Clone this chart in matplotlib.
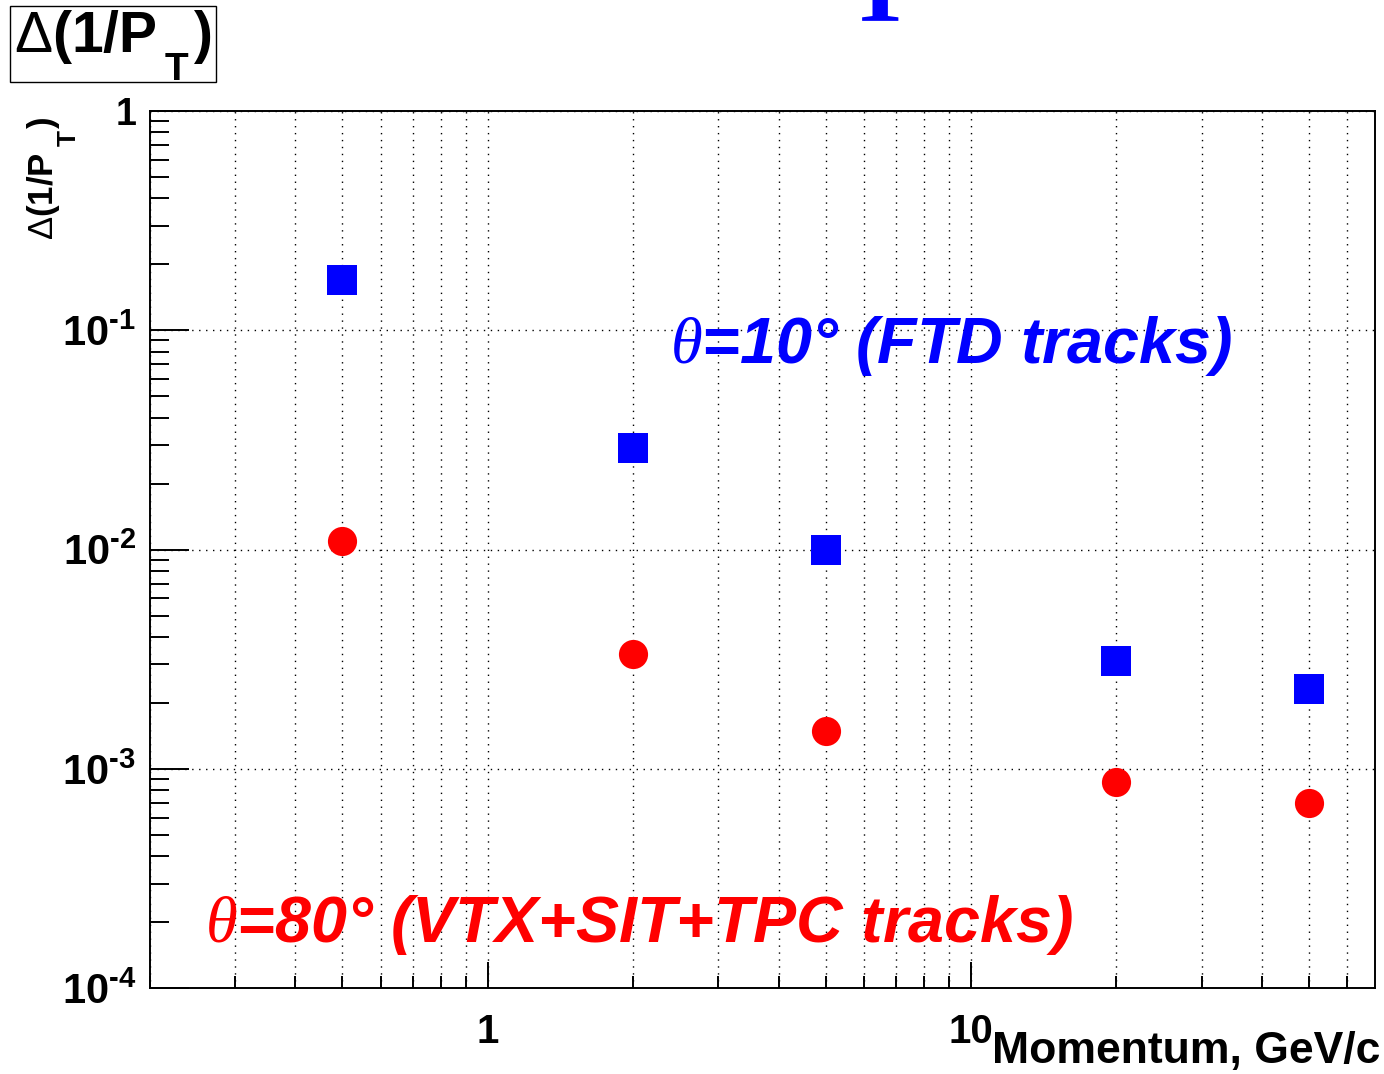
import numpy as np
import matplotlib
matplotlib.use("Agg")
import matplotlib.pyplot as plt
from matplotlib.ticker import LogLocator, NullFormatter, FixedLocator
from matplotlib.patches import Rectangle

plt.rcParams['font.family'] = ['Liberation Sans', 'DejaVu Sans']
plt.rcParams['mathtext.fontset'] = 'custom'
plt.rcParams['mathtext.rm'] = 'Liberation Sans'
plt.rcParams['mathtext.bf'] = 'Liberation Sans:bold'
plt.rcParams['mathtext.it'] = 'Liberation Serif:italic'

# momentum points, GeV/c
momentum = [0.5, 2, 5, 20, 50]
# delta(1/pT), theta = 10 deg (FTD tracks)
res_ftd = [0.170, 0.0292, 0.0100, 0.00311, 0.00231]
# delta(1/pT), theta = 80 deg (VTX+SIT+TPC tracks)
res_tpc = [0.0109, 0.00334, 0.00149, 0.00087, 0.000697]

ytick_vals = [1e-4, 1e-3, 1e-2, 1e-1, 1]
ytick_labels = [r'$\mathbf{10^{‐4}}$', r'$\mathbf{10^{‐3}}$', r'$\mathbf{10^{‐2}}$',
                r'$\mathbf{10^{‐1}}$', '1']
xtick_vals = [1, 10]
xtick_labels = ['1', '10']

W, H = 1384, 1074
fig = plt.figure(figsize=(W / 100, H / 100), dpi=100)
ax = fig.add_axes([0.1084, 0.0798, 0.885, 0.8168])

ax.plot(momentum, res_ftd, 's', color='#0000ff', markersize=21, markeredgewidth=0, zorder=5)
ax.plot(momentum, res_tpc, 'o', color='#ff0000', markersize=21, markeredgewidth=0, zorder=5)

ax.set_xscale('log')
ax.set_yscale('log')
ax.set_xlim(0.2, 68.5)
ax.set_ylim(1e-4, 1)

ax.xaxis.set_major_locator(FixedLocator(xtick_vals))
ax.set_xticklabels(xtick_labels)
ax.xaxis.set_minor_locator(LogLocator(base=10, subs=np.arange(2, 10), numticks=20))
ax.xaxis.set_minor_formatter(NullFormatter())
ax.yaxis.set_major_locator(FixedLocator(ytick_vals))
ax.set_yticklabels(ytick_labels)
ax.yaxis.set_minor_locator(LogLocator(base=10, subs=np.arange(2, 10), numticks=20))
ax.yaxis.set_minor_formatter(NullFormatter())

for s in ax.spines.values():
    s.set_linewidth(1.4)
ax.tick_params(axis='x', which='major', direction='in', length=19, width=1.4, pad=18,
               labelsize=29)
ax.tick_params(axis='x', which='minor', direction='in', length=9, width=1.4)
ax.tick_params(axis='y', which='major', direction='in', length=28, width=1.4, pad=10,
               labelsize=30)
ax.tick_params(axis='y', which='minor', direction='in', length=14, width=1.4)
for lab in ax.get_xticklabels() + ax.get_yticklabels():
    lab.set_fontweight('bold')
ax.get_yticklabels()[-1].set_fontsize(27)

ax.xaxis.grid(True, which='both', linestyle=(0, (1, 4)), color='black', linewidth=1.0)
ax.yaxis.grid(True, which='major', linestyle=(0, (1, 4)), color='black', linewidth=1.0)
ax.set_axisbelow(True)

ax.text(0.4245, 0.7128, r'$\theta$=10° (FTD tracks)', transform=ax.transAxes,
        color='#0000ff', fontsize=46.5, fontweight='bold', fontstyle='italic',
        va='baseline', ha='left')
ax.text(0.0449, 0.0528, r'$\theta$=80° (VTX+SIT+TPC tracks)', transform=ax.transAxes,
        color='#ff0000', fontsize=46.5, fontweight='bold', fontstyle='italic',
        va='baseline', ha='left')

# x axis title
fig.text(1380 / W, 1 - 1063 / H, 'Momentum, GeV/c', ha='right', va='baseline',
         fontsize=32, fontweight='bold')

# y axis title, pieces so the subscript sits like in ROOT
ylab = dict(rotation=90, rotation_mode='anchor', ha='left', va='baseline', fontweight='bold')
fig.text(53 / W, 1 - 240 / H, r'$\Delta$(1/P', fontsize=25, **ylab)
fig.text(76 / W, 1 - 146 / H, 'T', fontsize=19, **ylab)
fig.text(53 / W, 1 - 128 / H, ')', fontsize=25, **ylab)

# histogram title box
fig.patches.append(Rectangle((10 / W, 1 - 82 / H), 206 / W, 76 / H, transform=fig.transFigure,
                             facecolor='white', edgecolor='black', linewidth=1.0))
fig.text(14 / W, 1 - 52 / H, r'$\Delta$(1/P', ha='left', va='baseline',
         fontsize=41, fontweight='bold')
fig.text(165 / W, 1 - 80 / H, 'T', ha='left', va='baseline', fontsize=28, fontweight='bold')
fig.text(194 / W, 1 - 52 / H, ')', ha='left', va='baseline', fontsize=41, fontweight='bold')

# cut-off slide title letter
fig.text(0.636, 0.981, 'T', ha='center', va='baseline', color='#0000ff',
         fontsize=72, fontweight='bold', family='Liberation Serif')

fig.savefig('out.png', dpi=100)
